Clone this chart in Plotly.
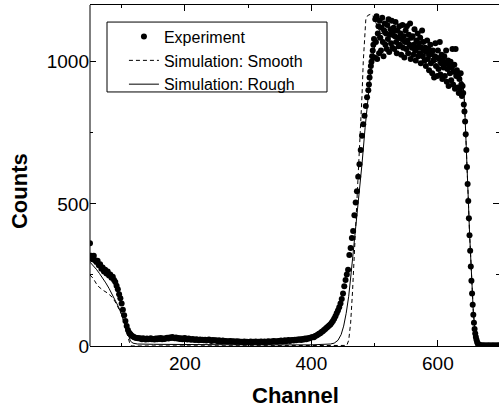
import plotly.graph_objects as go

# ---------------- data ----------------
ch_left = list(range(50, 130, 2))
counts_left = [362, 318, 305, 318, 302, 296, 300, 284, 288, 272,
               276, 262, 268, 255, 262, 248, 252, 240, 244, 232,
               225, 212, 200, 182, 168, 150, 128, 108, 88, 70,
               56, 47, 41, 36, 33, 31, 29, 28, 27, 27]

ch_flat = list(range(130, 380, 2))
counts_flat = [26, 24, 27, 25, 23, 26, 24, 25, 27, 24,
               25, 23, 26, 24, 27, 25, 28, 24, 26, 25,
               27, 29, 26, 30, 28, 32, 29, 27, 30, 26,
               28, 25, 27, 24, 26, 28, 25, 23, 26, 24,
               22, 25, 23, 21, 24, 22, 20, 23, 21, 22,
               20, 22, 19, 21, 23, 20, 18, 21, 19, 20,
               19, 17, 20, 18, 16, 19, 17, 18, 16, 17,
               16, 18, 15, 17, 16, 14, 17, 15, 16, 14,
               15, 13, 16, 14, 15, 13, 14, 16, 13, 15,
               14, 16, 13, 15, 14, 16, 15, 13, 16, 14,
               15, 17, 14, 16, 15, 18, 16, 17, 15, 18,
               17, 19, 16, 18, 20, 17, 19, 21, 18, 20,
               21, 19, 22, 20, 23]

ch_rise = list(range(380, 490, 2))
counts_rise = [22, 24, 21, 25, 23, 26, 24, 27, 26, 29,
               30, 32, 31, 35, 37, 40, 43, 45, 49, 52,
               56, 60, 64, 68, 72, 76, 82, 88, 96, 105,
               115, 125, 136, 150, 165, 185, 210, 232, 252, 268,
               320, 345, 380, 405, 460, 505, 545, 596, 640, 690,
               740, 780, 810, 845, 875]

ch_plateau = list(range(490, 641))
counts_plateau = [900, 920, 945, 965, 985, 1000, 1020, 1040, 1060, 1080,
                  1015, 1150, 1070, 1160, 1010, 1100, 1125, 1030, 1145, 1085,
                  1040, 1120, 1155, 1070, 1020, 1110, 1135, 1060, 1100, 1045,
                  1130, 1080, 1150, 1035, 1095, 1115, 1065, 1145, 1050, 1105,
                  1120, 1045, 1090, 1140, 1070, 1030, 1110, 1085, 1055, 1125,
                  1060, 1100, 1025, 1080, 1130, 1050, 1090, 1015, 1070, 1110,
                  1045, 1125, 1075, 1030, 1095, 1060, 1135, 1010, 1085, 1050,
                  1090, 1025, 1060, 1115, 1040, 1005, 1075, 1050, 1100, 1020,
                  1065, 1030, 1085, 995, 1050, 1110, 1020, 1070, 1040, 1005,
                  1050, 985, 1035, 1075, 1010, 1045, 970, 1025, 1060, 995,
                  1030, 960, 1040, 1005, 945, 1020, 1065, 985, 1015, 950,
                  1040, 975, 1010, 1070, 955, 995, 1025, 940, 1005, 980,
                  1020, 950, 995, 1040, 930, 975, 1005, 915, 985, 960,
                  1000, 935, 980, 1045, 920, 965, 990, 905, 1045, 950,
                  970, 910, 950, 890, 940, 905, 960, 920, 880, 915,
                  890]

ch_tail = list(range(641, 701))
counts_tail = [850, 825, 790, 745, 690, 630, 570, 510, 450, 390,
               335, 280, 230, 185, 145, 110, 82, 60, 44, 32,
               22, 14, 9, 6, 4, 3, 2, 2, 1, 2,
               2, 1, 2, 1, 2, 1, 1, 2, 1, 2,
               1, 2, 1, 1, 2, 1, 2, 1, 2, 1,
               1, 2, 1, 2, 1, 2, 1, 1, 2, 1]

exp_channel = ch_left + ch_flat + ch_rise + ch_plateau + ch_tail
exp_counts = counts_left + counts_flat + counts_rise + counts_plateau + counts_tail

smooth_ch = [50, 55, 62, 70, 78, 85, 90, 95, 100, 103,
             105, 108, 111, 113, 116, 200, 300, 400, 450, 456,
             459, 462, 465, 468, 471, 474, 477, 480, 482, 484,
             486, 489, 493, 497, 500, 505, 510, 520, 540, 560,
             580, 600, 620, 630, 636, 640, 642, 644, 646, 648,
             650, 652, 654, 656, 658, 660, 663, 666, 670, 680, 700]
smooth = [250, 238, 212, 197, 186, 172, 155, 135, 112, 90,
          74, 42, 18, 8, 0, 0, 0, 0, 0, 2,
          20, 80, 190, 320, 450, 570, 720, 880, 1000, 1100,
          1148, 1163, 1167, 1163, 1150, 1120, 1100, 1095, 1075, 1050,
          1025, 1000, 975, 960, 945, 915, 860, 760, 640, 520,
          400, 290, 195, 120, 70, 38, 15, 6, 2, 0, 0]

rough_ch = [50, 55, 60, 65, 70, 75, 80, 85, 90, 95,
            100, 104, 108, 111, 114, 118, 125, 150, 200, 300,
            400, 420, 430, 436, 442, 447, 451, 455, 459, 463,
            467, 471, 475, 480, 485, 490, 495, 500, 505, 510,
            520, 540, 560, 580, 600, 620, 630, 636, 640, 642,
            644, 646, 648, 650, 652, 654, 656, 658, 660, 663,
            666, 670, 680, 700]
rough = [295, 284, 270, 255, 240, 222, 203, 183, 162, 138,
         110, 82, 52, 30, 17, 10, 7, 6, 5, 4,
         4, 5, 7, 10, 20, 40, 70, 115, 175, 260,
         345, 430, 520, 640, 770, 895, 990, 1055, 1090, 1100,
         1095, 1075, 1050, 1025, 1000, 975, 960, 945, 915, 860,
         760, 640, 520, 400, 290, 195, 120, 70, 38, 15,
         6, 2, 0, 0]

x_ticks = [200, 400, 600]
x_minor = [100, 300, 500]
y_ticks = [0, 500, 1000]
y_minor = [250, 750]

FONT = "Liberation Sans, Arial, sans-serif"

fig = go.Figure()
fig.add_trace(go.Scatter(x=smooth_ch, y=smooth, mode="lines", name="Simulation: Smooth",
                         line=dict(color="black", width=1, dash="4px,3px"), legendrank=2))
fig.add_trace(go.Scatter(x=rough_ch, y=rough, mode="lines", name="Simulation: Rough",
                         line=dict(color="black", width=1), legendrank=3))
fig.add_trace(go.Scatter(x=exp_channel, y=exp_counts, mode="markers", name="Experiment",
                         marker=dict(color="black", size=6, line=dict(width=0)), legendrank=1))

W, H = 499, 410
L, R, T, B = 90, 0, 5, 64

fig.update_layout(
    width=W, height=H,
    margin=dict(l=L, r=R, t=T, b=B),
    paper_bgcolor="white", plot_bgcolor="white",
    font=dict(family=FONT, color="black"),
    showlegend=True,
    legend=dict(x=0.083, y=0.957, xanchor="left", yanchor="top",
                bgcolor="rgba(0,0,0,0)", borderwidth=0,
                font=dict(family=FONT, size=16, color="black")),
    xaxis=dict(range=[50, 696.6], tickvals=x_ticks, ticks="inside", ticklen=6,
               tickwidth=1, tickcolor="black", showline=True, linecolor="black",
               linewidth=1, mirror="ticks", showgrid=False, zeroline=False,
               tickfont=dict(family=FONT, size=19, color="black"),
               minor=dict(tickvals=x_minor, ticks="inside", ticklen=3,
                          tickcolor="black", tickwidth=1, showgrid=False)),
    yaxis=dict(range=[0, 1200], tickvals=y_ticks, ticks="inside", ticklen=6,
               tickwidth=1, tickcolor="black", showline=False,
               mirror="ticks", showgrid=False, zeroline=False,
               tickfont=dict(family=FONT, size=19, color="black"),
               minor=dict(tickvals=y_minor, ticks="inside", ticklen=3,
                          tickcolor="black", tickwidth=1, showgrid=False)),
    shapes=[
        dict(type="line", xref="paper", yref="paper", x0=0, x1=0, y0=0, y1=1,
             line=dict(color="black", width=1)),
        dict(type="rect", xref="paper", yref="paper", x0=0.0416, x1=0.5795,
             y0=0.745, y1=0.950, line=dict(color="black", width=1)),
    ],
    annotations=[
        dict(text="<b>Channel</b>", xref="x", yref="paper", x=375, y=-0.1437,
             xanchor="center", yanchor="middle", showarrow=False,
             font=dict(family=FONT, size=22, color="black")),
        dict(text="<b>Counts</b>", xref="paper", yref="paper", x=-0.1736, y=0.4545,
             xanchor="center", yanchor="middle", textangle=-90, showarrow=False,
             font=dict(family=FONT, size=22, color="black")),
    ],
)

fig.write_html("out.html")
